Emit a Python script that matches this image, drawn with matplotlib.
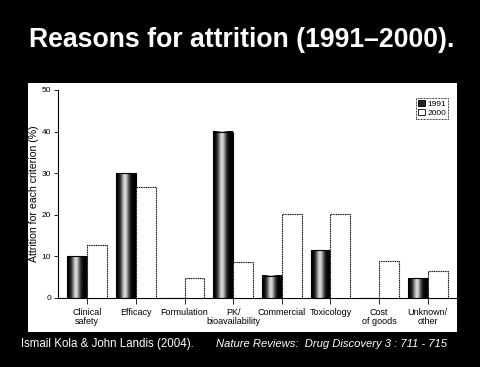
import numpy as np
import matplotlib
matplotlib.use("Agg")
import matplotlib.pyplot as plt
from matplotlib.patches import Rectangle, Patch

plt.rcParams['font.family'] = ['Liberation Sans', 'DejaVu Sans']

# data
categories = ["Clinical\nsafety", "Efficacy", "Formulation", "PK/\nbioavailability",
              "Commercial", "Toxicology", "Cost\nof goods", "Unknown/\nother"]
attr_1991 = [10, 30, 0, 40, 5.3, 11.5, 0, 4.8]
attr_2000 = [12.8, 26.8, 4.7, 8.6, 20.3, 20.3, 9, 6.5]
series_names = ["1991", "2000"]
yticks = [0, 10, 20, 30, 40, 50]

W, H = 481, 367
fig = plt.figure(figsize=(W / 100, H / 100), dpi=100, facecolor="black")

# white panel holding the original figure
fig.patches.append(Rectangle((28 / W, 1 - 332 / H), (457 - 28) / W, (332 - 83) / H,
                             transform=fig.transFigure, facecolor="white",
                             edgecolor="none", zorder=-5))

fig.text(0.503, 1 - 47 / H, "Reasons for attrition (1991\u20132000).", color="white",
         fontsize=19.2, fontweight="bold", ha="center", va="baseline")

ax = fig.add_axes([58 / W, 1 - 298 / H, (457 - 58) / W, (298 - 90) / H])
ax.set_facecolor("none")
ax.set_zorder(2)

x = np.arange(len(categories))
bw = 0.41

# 1991 bars: black with a lighter centre stripe (cylinder-like shading)
t = np.linspace(0, 1, 64)
shade = 0.85 * np.exp(-((t - 0.45) / 0.2) ** 2)
grad = np.tile(shade, (2, 1))
bars91 = ax.bar(x - bw / 2, attr_1991, bw, facecolor="none", edgecolor="black",
                linewidth=0.8, zorder=3)
for b in bars91:
    if b.get_height() <= 0:
        continue
    x0 = b.get_x()
    ax.imshow(grad, extent=[x0, x0 + b.get_width(), 0, b.get_height()],
              aspect="auto", cmap="gray", vmin=0, vmax=1, zorder=2,
              interpolation="bilinear")

ax.bar(x + bw / 2, attr_2000, bw, facecolor="white", edgecolor="black",
       linewidth=0.8, linestyle=(0, (1, 0.6)), zorder=3)

ax.set_xlim(-0.6, 7.6)
ax.set_ylim(0, 50)
ax.set_yticks(yticks)
ax.set_yticklabels([str(v) for v in yticks], fontsize=6)
ax.set_xticks(x)
ax.set_xticklabels(categories, fontsize=6.5, linespacing=1.1)
ax.tick_params(axis="x", length=4, width=0.6, pad=3)
ax.tick_params(axis="y", length=3, width=0.6, pad=2)
for s in ["top", "right"]:
    ax.spines[s].set_visible(False)
for s in ["left", "bottom"]:
    ax.spines[s].set_linewidth(0.8)
ax.set_ylabel("Attrition for each criterion (%)", fontsize=7.6)
ax.yaxis.set_label_coords(-0.048, 0.5)

handles = [Patch(facecolor="#222222", edgecolor="black", linewidth=0.6),
           Patch(facecolor="white", edgecolor="black", linewidth=0.6)]
leg = ax.legend(handles, series_names, loc="upper right", bbox_to_anchor=(0.978, 0.962),
                fontsize=6, handlelength=0.8, handleheight=0.8, handletextpad=0.3,
                borderpad=0.25, labelspacing=0.1, borderaxespad=0, fancybox=False,
                framealpha=1)
leg.get_frame().set_edgecolor("black")
leg.get_frame().set_linewidth(0.6)
leg.get_frame().set_linestyle((0, (1, 0.8)))

fig.text(21 / W, 20 / H, "Ismail Kola & John Landis (2004).", color="white",
         fontsize=8.3, va="baseline", ha="left")
fig.text(216 / W, 20 / H, "Nature Reviews:  Drug Discovery 3 : 711 - 715", color="white",
         fontsize=8.1, style="italic", va="baseline", ha="left")

fig.savefig("out.png", dpi=100, facecolor="black")
